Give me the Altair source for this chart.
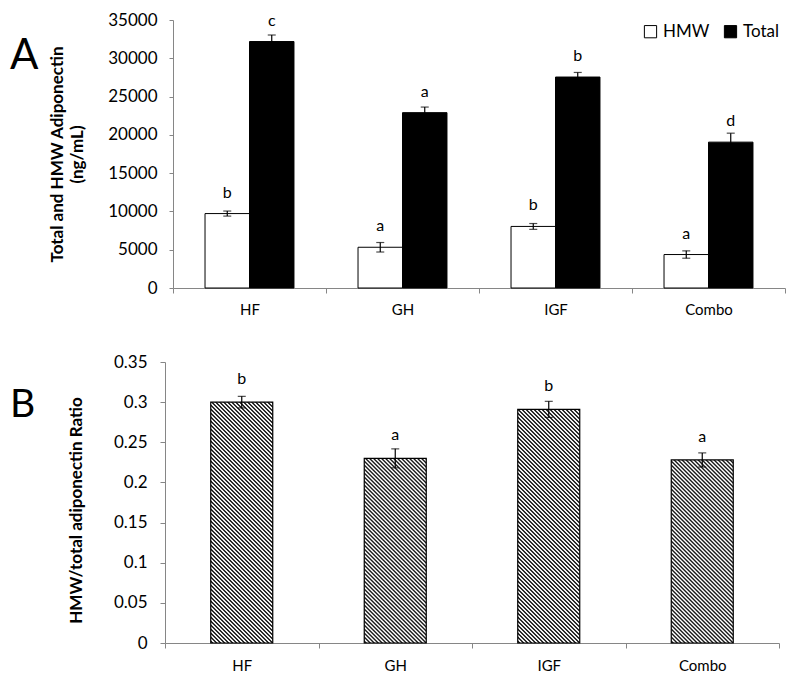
import math
import altair as alt
import pandas as pd

# ---------------- data ----------------
groups = ["HF", "GH", "IGF", "Combo"]
series = ["HMW", "Total"]
hmw = [9720, 5320, 8040, 4370]
hmw_err = [330, 620, 380, 480]
total = [32190, 22900, 27550, 19050]
total_err = [850, 730, 600, 1170]
letters_hmw = ["b", "a", "b", "a"]
letters_total = ["c", "a", "b", "d"]

ratio = [0.300, 0.230, 0.291, 0.228]
ratio_err = [0.0072, 0.0118, 0.0100, 0.0088]
letters_ratio = ["b", "a", "b", "a"]

panel_labels = ["A", "B"]
y_ticks_a = [0, 5000, 10000, 15000, 20000, 25000, 30000, 35000]
y_ticks_b = [0, 0.05, 0.1, 0.15, 0.2, 0.25, 0.3, 0.35]

FONT = "Lato"
AXIS_GRAY = "#868686"

# ---------------- panel A ----------------
rows = []
for i, g in enumerate(groups):
    rows.append(dict(group=g, series="HMW", value=hmw[i], err=hmw_err[i], letter=letters_hmw[i]))
    rows.append(dict(group=g, series="Total", value=total[i], err=total_err[i], letter=letters_total[i]))
dfa = pd.DataFrame(rows)
dfa["lo"] = dfa["value"] - dfa["err"]
dfa["hi"] = dfa["value"] + dfa["err"]

SHIFT_A = 8            # panel A plot starts 8px right of panel B's
WA, HA = 612 + SHIFT_A, 268

xa = alt.X("group:N", sort=groups,
           scale=alt.Scale(paddingInner=0, paddingOuter=0, range=[SHIFT_A, WA]),
           axis=alt.Axis(title=None, labelAngle=0, tickBand="extent", labelFontSize=15,
                         labelPadding=9, tickSize=5, domainColor=AXIS_GRAY, tickColor=AXIS_GRAY,
                         labelColor="black", labelFont=FONT, grid=False))
xoff = alt.XOffset("series:N", sort=series,
                   scale=alt.Scale(paddingInner=0, paddingOuter=0.72))
scale_ya = alt.Scale(domain=[0, 35000], nice=False)
axis_ya = alt.Axis(values=y_ticks_a, format="d", grid=False, labelFontSize=17,
                   labelOverlap=False, offset=-SHIFT_A,
                   labelPadding=12, tickSize=4, domainColor=AXIS_GRAY, tickColor=AXIS_GRAY,
                   labelColor="black", labelFont=FONT,
                   title=["Total and HMW Adiponectin", "(ng/mL)"],
                   titleFont=FONT, titleFontSize=17, titleFontWeight="bold",
                   titleLineHeight=20, titlePadding=21, titleColor="black")


def ya(field):
    return alt.Y(field, scale=scale_ya, axis=axis_ya)


baseA = alt.Chart(dfa)
barsA = baseA.mark_bar(stroke="black", strokeWidth=1).encode(
    x=xa, xOffset=xoff, y=ya("value:Q"),
    fill=alt.Fill("series:N", scale=alt.Scale(domain=series, range=["white", "black"]),
                  legend=alt.Legend(title=None, orient="none", legendX=477, legendY=3,
                                    direction="horizontal", symbolType="square",
                                    symbolSize=150, symbolStrokeColor="black",
                                    symbolStrokeWidth=1, labelFontSize=17, labelFont=FONT,
                                    labelColor="black", labelOffset=4, columnPadding=12,
                                    padding=0, symbolOpacity=1)))
ruleA = baseA.mark_rule(color="black", strokeWidth=1.2).encode(
    x=xa, xOffset=xoff, y=ya("lo:Q"), y2="hi:Q")
capHiA = baseA.mark_tick(color="black", size=8, thickness=1.2).encode(
    x=xa, xOffset=xoff, y=ya("hi:Q"))
capLoA = baseA.mark_tick(color="black", size=8, thickness=1.2).encode(
    x=xa, xOffset=xoff, y=ya("lo:Q"))
textA = baseA.mark_text(dy=-16, fontSize=16, font=FONT, baseline="alphabetic", color="black").encode(
    x=xa, xOffset=xoff, y=ya("value:Q"), text="letter:N")
labelA = alt.Chart(pd.DataFrame({"t": [panel_labels[0]]})).mark_text(
    fontSize=42, font=FONT, align="left", baseline="alphabetic", color="black").encode(
    text="t:N", x=alt.value(-155), y=alt.value(49))

chartA = alt.layer(barsA, ruleA, capHiA, capLoA, textA, labelA).properties(width=WA, height=HA)

# ---------------- panel B ----------------
dfb = pd.DataFrame(dict(group=groups, value=ratio, err=ratio_err, letter=letters_ratio))
dfb["lo"] = dfb["value"] - dfb["err"]
dfb["hi"] = dfb["value"] + dfb["err"]

WB, HB = 614, 281
BAR_W = 62
YMAX_B = 0.35
PERIOD = 4.0      # px between hatch lines (along x)
STEP_PX = 20      # hatch tile step (multiple of PERIOD)
TILE_PX = 24      # hatch tile height (overlap to avoid seams)


def hatch_tile(w=BAR_W, h=TILE_PX):
    # smooth "\\" stripes: (x - y) mod PERIOD profile; gradient in bbox units
    mu = (w + h) / (w * w + h * h)
    dx, dy = mu * w, -mu * h
    L = w + h
    prof = [(0.0, "#ffffff"), (0.1, "#ffffff"), (0.35, "#1c1c1c"), (0.6, "#1c1c1c"), (0.85, "#ffffff")]
    stops = []
    s = 0.0
    while s < L:
        for f, col in prof:
            o = s + f * PERIOD
            if o <= L:
                stops.append(dict(offset=o / L, color=col))
        s += PERIOD
    return dict(gradient="linear", x1=0, y1=1, x2=dx, y2=1 + dy, stops=stops)


# hatch tiles stacked up to each bar's value, excess covered in white
step_u = STEP_PX / HB * YMAX_B
tile_u = TILE_PX / HB * YMAX_B
tiles = []
covers = []
for i, g in enumerate(groups):
    n = int(math.ceil(ratio[i] / step_u))
    for j in range(n):
        tiles.append(dict(group=g, value=j * step_u, y1=j * step_u + tile_u))
    covers.append(dict(group=g, value=ratio[i], y1=(n - 1) * step_u + tile_u + 0.0001))
dft = pd.DataFrame(tiles)
dfc = pd.DataFrame(covers)

xb = alt.X("group:N", sort=groups,
           scale=alt.Scale(paddingInner=0, paddingOuter=0),
           axis=alt.Axis(title=None, labelAngle=0, tickBand="extent", labelFontSize=15,
                         labelPadding=10, tickSize=5, domainColor=AXIS_GRAY, tickColor=AXIS_GRAY,
                         labelColor="black", labelFont=FONT, grid=False))
scale_yb = alt.Scale(domain=[0, YMAX_B], nice=False)
axis_yb = alt.Axis(values=y_ticks_b, format="~g", grid=False, labelFontSize=17,
                   labelOverlap=False,
                   labelPadding=13, tickSize=5, domainColor=AXIS_GRAY, tickColor=AXIS_GRAY,
                   labelColor="black", labelFont=FONT,
                   title="HMW/total adiponectin Ratio", titleFont=FONT, titleFontSize=17,
                   titleFontWeight="bold", titlePadding=28, titleColor="black", titleY=148)


def yb(field):
    return alt.Y(field, scale=scale_yb, axis=axis_yb)


baseB = alt.Chart(dfb)
hatchB = alt.Chart(dft).mark_bar(fill=hatch_tile(), strokeWidth=0, size=BAR_W).encode(
    x=xb, y=yb("value:Q"), y2="y1:Q")
coverB = alt.Chart(dfc).mark_bar(fill="white", strokeWidth=0, size=BAR_W + 4).encode(
    x=xb, y=yb("value:Q"), y2="y1:Q")
outlineB = baseB.mark_bar(fillOpacity=0, stroke="black", strokeWidth=1.2, size=BAR_W).encode(
    x=xb, y=yb("value:Q"))
ruleB = baseB.mark_rule(color="black", strokeWidth=1.2).encode(x=xb, y=yb("lo:Q"), y2="hi:Q")
capHiB = baseB.mark_tick(color="black", size=8, thickness=1.2).encode(x=xb, y=yb("hi:Q"))
capLoB = baseB.mark_tick(color="black", size=8, thickness=1.2).encode(x=xb, y=yb("lo:Q"))
textB = baseB.mark_text(dy=-18, fontSize=16, font=FONT, baseline="alphabetic", color="black").encode(
    x=xb, y=yb("value:Q"), text="letter:N")
labelB = alt.Chart(pd.DataFrame({"t": [panel_labels[1]]})).mark_text(
    fontSize=39, font=FONT, align="left", baseline="alphabetic", color="black").encode(
    text="t:N", x=alt.value(-155), y=alt.value(55))

chartB = alt.layer(hatchB, coverB, outlineB, ruleB, capHiB, capLoB, textB, labelB).properties(
    width=WB, height=HB)

chart = alt.vconcat(chartA, chartB, spacing=36).configure(
    padding={"left": 2, "top": 3, "right": 0, "bottom": 0}
).configure_view(stroke=None).configure_axis(domainWidth=1, tickWidth=1, labelOverlap=False)

chart.save("out.html", embed_options={"renderer": "svg", "actions": False})
